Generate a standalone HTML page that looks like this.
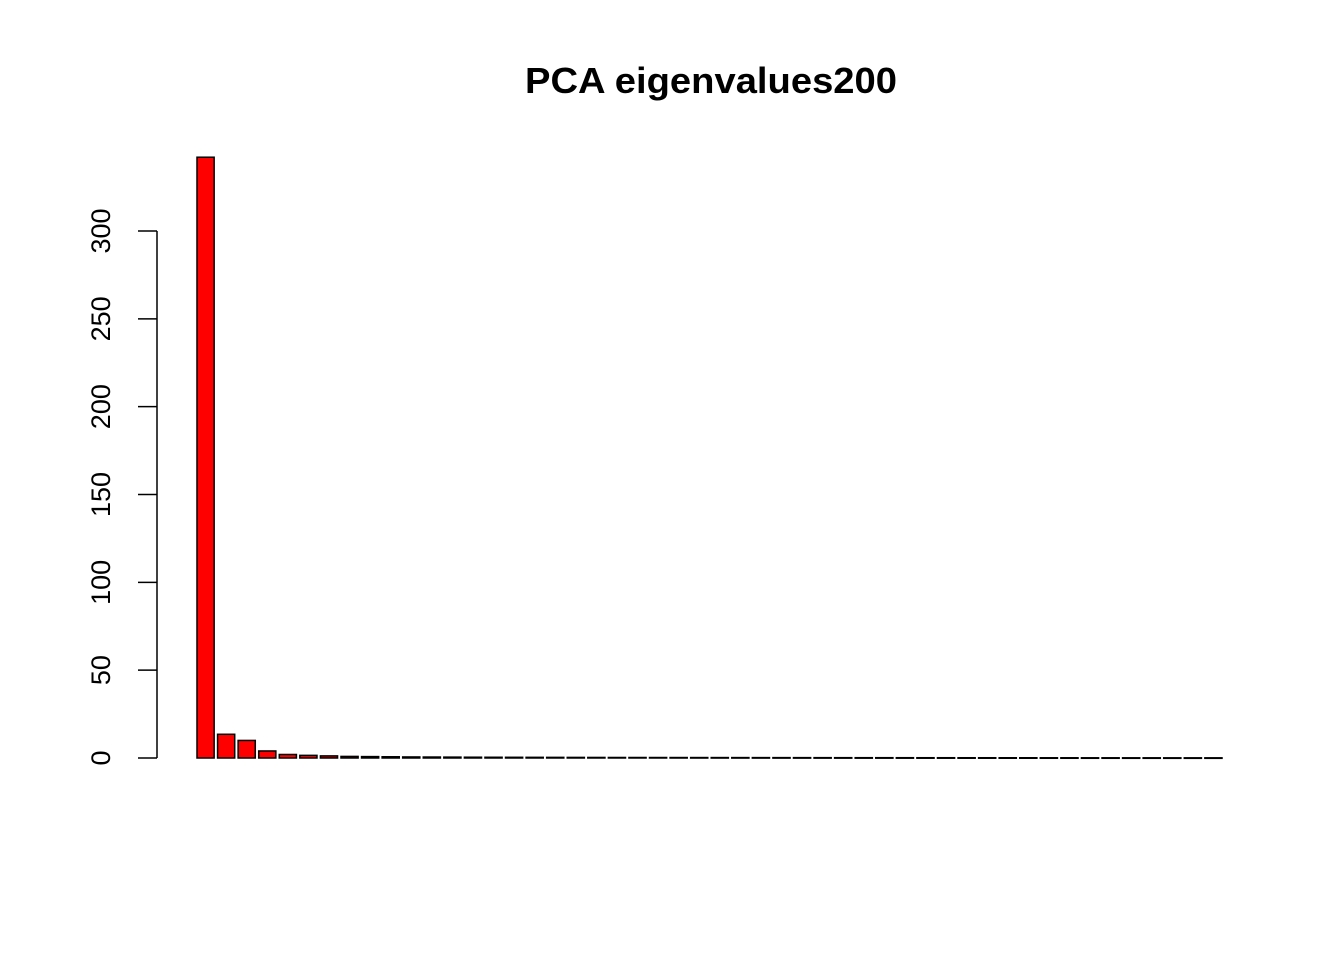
<!DOCTYPE html>
<html><head><meta charset="utf-8"><style>body{margin:0;background:#fff}svg{display:block}</style></head>
<body>
<svg id="chart" width="1344" height="960" xmlns="http://www.w3.org/2000/svg" font-family="Liberation Sans, sans-serif">
<text x="711" y="93" text-anchor="middle" font-size="36" font-weight="bold" textLength="372" lengthAdjust="spacingAndGlyphs">PCA eigenvalues200</text>
<g id="bars"></g><g id="yaxis"></g>
</svg>
<script>
const values=[342,13.5,10,4,2,1.5,1.2,0.9,0.8,0.7,0.6,0.55,0.5,0.45,0.42,0.4,0.38,0.36,0.34,0.32,0.3,0.29,0.28,0.27,0.26,0.25,0.24,0.23,0.22,0.21,0.2,0.19,0.18,0.18,0.17,0.16,0.16,0.15,0.15,0.14,0.14,0.13,0.13,0.12,0.12,0.11,0.11,0.1,0.1,0.1];
const yTicks=[0,50,100,150,200,250,300];
const ns="http://www.w3.org/2000/svg";
const xs=v=>197+(v-0.2)*(1025/59.8);
const ys=v=>758-v*(527/300);
const bars=document.getElementById('bars');
values.forEach((v,i)=>{
 const l=0.2+i*1.2;
 const r=document.createElementNS(ns,'rect');
 
 
 r.setAttribute('x',xs(l));r.setAttribute('width',xs(l+1)-xs(l));
 r.setAttribute('y',ys(v));r.setAttribute('height',Math.max(ys(0)-ys(v),0.5));
 r.setAttribute('fill','#ff0000');r.setAttribute('stroke','#000');r.setAttribute('stroke-width','1.5');
 bars.appendChild(r);
});
const ya=document.getElementById('yaxis');
const ln=document.createElementNS(ns,'line');


ln.setAttribute('x1',157);ln.setAttribute('x2',157);ln.setAttribute('y1',ys(0));ln.setAttribute('y2',ys(300));ln.setAttribute('stroke','#000');ln.setAttribute('stroke-width','1.5');
ya.appendChild(ln);
yTicks.forEach(t=>{
 const k=document.createElementNS(ns,'line');
 
 
 k.setAttribute('x1',138);k.setAttribute('x2',157);k.setAttribute('y1',ys(t));k.setAttribute('y2',ys(t));k.setAttribute('stroke','#000');k.setAttribute('stroke-width','1.5');
 ya.appendChild(k);
 const tx=document.createElementNS(ns,'text');
 
 
 tx.setAttribute('x',0);tx.setAttribute('y',0);tx.setAttribute('font-size','27');tx.setAttribute('text-anchor','middle');
 tx.setAttribute('transform','translate(110,'+ys(t)+') rotate(-90)');
 tx.textContent=t;
 ya.appendChild(tx);
});
</script>
</body></html>
